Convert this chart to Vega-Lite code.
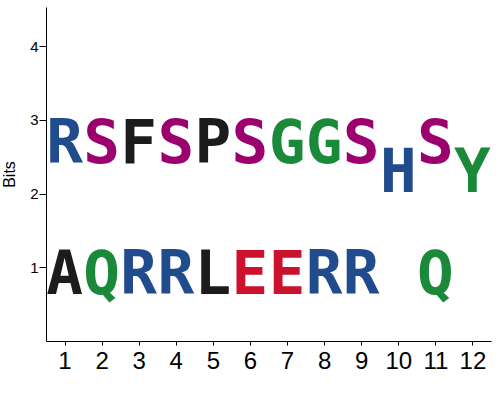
{
  "$schema": "https://vega.github.io/schema/vega-lite/v6.json",
  "width": 445,
  "height": 334,
  "autosize": "none",
  "padding": {"left": 46, "top": 7, "right": 9, "bottom": 59},
  "data": {
    "values": [
      {"pos": 1, "letter": "A", "lo": 0, "hi": 1.77},
      {"pos": 1, "letter": "R", "lo": 1.8, "hi": 3.51},
      {"pos": 2, "letter": "Q", "lo": 0, "hi": 1.77},
      {"pos": 2, "letter": "S", "lo": 1.8, "hi": 3.51},
      {"pos": 3, "letter": "R", "lo": 0, "hi": 1.77},
      {"pos": 3, "letter": "F", "lo": 1.8, "hi": 3.51},
      {"pos": 4, "letter": "R", "lo": 0, "hi": 1.77},
      {"pos": 4, "letter": "S", "lo": 1.8, "hi": 3.51},
      {"pos": 5, "letter": "L", "lo": 0, "hi": 1.77},
      {"pos": 5, "letter": "P", "lo": 1.8, "hi": 3.51},
      {"pos": 6, "letter": "E", "lo": 0, "hi": 1.77},
      {"pos": 6, "letter": "S", "lo": 1.8, "hi": 3.51},
      {"pos": 7, "letter": "E", "lo": 0, "hi": 1.77},
      {"pos": 7, "letter": "G", "lo": 1.8, "hi": 3.51},
      {"pos": 8, "letter": "R", "lo": 0, "hi": 1.77},
      {"pos": 8, "letter": "G", "lo": 1.8, "hi": 3.51},
      {"pos": 9, "letter": "R", "lo": 0, "hi": 1.77},
      {"pos": 9, "letter": "S", "lo": 1.8, "hi": 3.51},
      {"pos": 10, "letter": "H", "lo": 0, "hi": 4.53},
      {"pos": 11, "letter": "Q", "lo": 0, "hi": 1.77},
      {"pos": 11, "letter": "S", "lo": 1.8, "hi": 3.51},
      {"pos": 12, "letter": "Y", "lo": 0, "hi": 4.53}
    ]
  },
  "transform": [
    {"calculate": "(datum.lo + datum.hi) / 2", "as": "mid"}
  ],
  "mark": {
    "type": "text",
    "font": "DejaVu Sans Mono",
    "fontWeight": "bold",
    "fontSize": 61,
    "baseline": "middle",
    "align": "center"
  },
  "encoding": {
    "x": {
      "field": "pos",
      "type": "quantitative",
      "scale": {"domain": [0.5, 12.5], "nice": false, "zero": false},
      "axis": {
        "title": null,
        "values": [1, 2, 3, 4, 5, 6, 7, 8, 9, 10, 11, 12],
        "grid": false,
        "labelFontSize": 24,
        "labelFont": "Liberation Sans",
        "labelColor": "black",
        "labelPadding": 4,
        "tickSize": 4,
        "tickColor": "black",
        "domainColor": "black"
      }
    },
    "y": {
      "field": "mid",
      "type": "quantitative",
      "scale": {"domain": [0, 4.53], "nice": false},
      "axis": {
        "title": "Bits",
        "titleFontSize": 16,
        "titleFont": "Liberation Sans",
        "titleFontWeight": "normal",
        "titleColor": "black",
        "titlePadding": 12,
        "values": [1, 2, 3, 4],
        "grid": false,
        "labelFontSize": 15,
        "labelFont": "Liberation Sans",
        "labelColor": "black",
        "labelPadding": 1,
        "tickSize": 7,
        "tickColor": "black",
        "domainColor": "black"
      }
    },
    "text": {"field": "letter", "type": "nominal"},
    "color": {
      "field": "letter",
      "type": "nominal",
      "legend": null,
      "scale": {
        "domain": ["A", "E", "F", "G", "H", "L", "P", "Q", "R", "S", "Y"],
        "range": ["#1c1b1d", "#cc112e", "#1c1b1d", "#1b893a", "#204b8c", "#1c1b1d", "#1c1b1d", "#1b893a", "#204b8c", "#9b006e", "#1b893a"]
      }
    }
  },
  "config": {"view": {"stroke": null}}
}
